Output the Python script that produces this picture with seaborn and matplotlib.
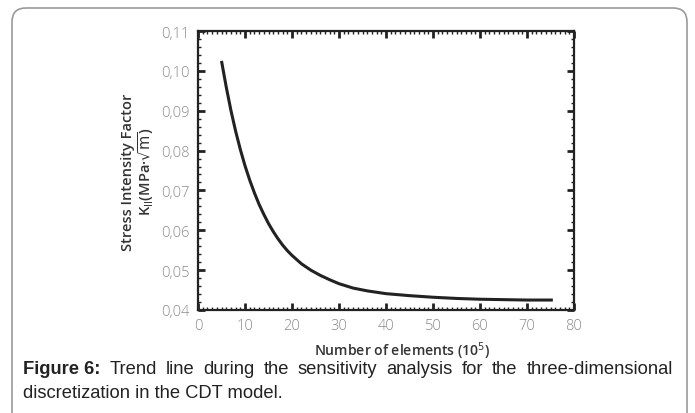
import matplotlib
matplotlib.use("Agg")
import matplotlib.pyplot as plt
import seaborn as sns
import pandas as pd
from matplotlib.patches import FancyBboxPatch
from matplotlib.ticker import MultipleLocator, FixedLocator

# ---- data ----
elements = [5, 6, 7, 8, 9, 10, 11, 12, 13, 14, 15, 16, 17, 18, 19, 20, 22, 24, 26, 28,
            30, 33, 36, 40, 45, 50, 55, 60, 65, 70, 75.5]
k_factor = [0.1025, 0.0960, 0.0901, 0.0849, 0.0803, 0.0762, 0.0726, 0.0694, 0.0665, 0.0640,
            0.0617, 0.0597, 0.0579, 0.0563, 0.0549, 0.0537, 0.0516, 0.0500, 0.0487, 0.0476,
            0.0466, 0.0455, 0.0448, 0.0441, 0.0436, 0.0432, 0.0429, 0.0427, 0.0426, 0.0425, 0.0425]
x_ticks = [0, 10, 20, 30, 40, 50, 60, 70, 80]
x_tick_labels = ["0", "10", "20", "30", "40", "50", "60", "70", "80"]
y_ticks = [0.04, 0.05, 0.06, 0.07, 0.08, 0.09, 0.10, 0.11]
y_tick_labels = ["0,04", "0,05", "0,06", "0,07", "0,08", "0,09", "0,10", "0,11"]
caption_bold = "Figure 6:"
caption_line1 = "Trend line during the sensitivity analysis for the three-dimensional"
caption_line2 = "discretization in the CDT model."

sns.set_theme(style="white")
plt.rcParams['font.family'] = ['Open Sans', 'DejaVu Sans']

W, H = 695, 414
fig = plt.figure(figsize=(W / 100, H / 100), dpi=100)
fig.patch.set_facecolor("white")

# outer rounded frame
frame = FancyBboxPatch((12 / W, -0.05), (687 - 12) / W, (414 - 9) / H + 0.05,
                       boxstyle="round,pad=0,rounding_size=0.02",
                       transform=fig.transFigure, fill=False,
                       edgecolor="#9a9a9a", linewidth=1.2, mutation_aspect=W / H)
fig.patches.append(frame)

ax = fig.add_axes([198 / W, 1 - 311 / H, (574 - 198) / W, (311 - 32) / H])
df = pd.DataFrame({"elements": elements, "k": k_factor})
sns.lineplot(data=df, x="elements", y="k", ax=ax, color="#222222", linewidth=2.2)
ax.lines[0].set_solid_joinstyle("round")
ax.lines[0].set_solid_capstyle("butt")

ax.set_xlim(0, 80)
ax.set_ylim(0.04, 0.11)
ax.xaxis.set_major_locator(FixedLocator(x_ticks))
ax.set_xticklabels(x_tick_labels)
ax.yaxis.set_major_locator(FixedLocator(y_ticks))
ax.set_yticklabels(y_tick_labels)
ax.xaxis.set_minor_locator(MultipleLocator(1))
ax.yaxis.set_minor_locator(MultipleLocator(0.002))
ax.tick_params(which="both", direction="in", top=True, right=True, bottom=True, left=True,
               color="#222222")
ax.tick_params(which="major", length=5, width=2, labelsize=10.5, labelcolor="#8a8a8a", pad=6)
ax.tick_params(which="minor", length=2.5, width=1)
for lab in ax.get_xticklabels() + ax.get_yticklabels():
    lab.set_fontweight("light")
for sp in ax.spines.values():
    sp.set_color("#222222")
    sp.set_linewidth(1.6)
ax.set_xlabel("")
ax.set_ylabel("")

# axis titles
fig.text(402 / W, 1 - 351 / H, r"Number of elements (10$^{5}$)", ha="center", va="center",
         fontsize=10.1, color="#333333", fontweight="semibold")
fig.text(128 / W, 1 - 172 / H, "Stress Intensity Factor", rotation=90, ha="center", va="center",
         fontsize=10.5, color="#333333", fontweight="semibold")
fig.text(146 / W, 1 - 172 / H, r"K$_{\mathrm{II}}$(MPa·$\sqrt{\mathrm{m}}$)", rotation=90,
         ha="center", va="center", fontsize=10.5, color="#333333", fontweight="semibold")

# caption, first line justified
cap_font = ['Liberation Sans', 'DejaVu Sans']
cap_size = 13.2
fig.canvas.draw()
renderer = fig.canvas.get_renderer()
left_px, right_px = 23, 673
y1 = 1 - 370 / H
y2 = 1 - 394 / H
words = [(caption_bold, "bold")] + [(w, "normal") for w in caption_line1.split(" ")]
texts = []
total = 0
for w, wt in words:
    t = fig.text(0, y1, w, fontsize=cap_size, family=cap_font, fontweight=wt, color="#222222",
                 va="center", ha="left")
    wpx = t.get_window_extent(renderer).width
    texts.append((t, wpx))
    total += wpx
gap = (right_px - left_px - total) / (len(texts) - 1)
x = left_px
for t, wpx in texts:
    t.set_x(x / W)
    x += wpx + gap
fig.text(left_px / W, y2, caption_line2, fontsize=cap_size, family=cap_font, color="#222222",
         va="center", ha="left")

fig.savefig("out.png", dpi=100, facecolor="white")
